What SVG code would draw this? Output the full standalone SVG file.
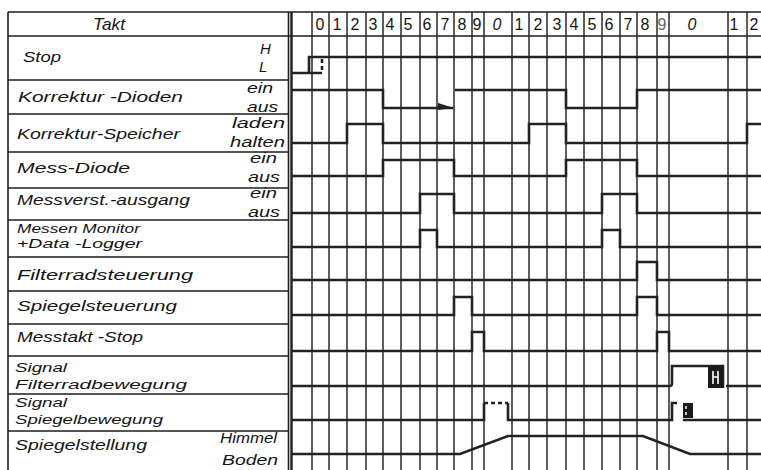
<svg xmlns="http://www.w3.org/2000/svg" width="761" height="470" viewBox="0 0 761 470">
<defs>
<style>
.bg{fill:#fff}
.frame{fill:none;stroke:#1e1e1e;stroke-width:1.6}
.grid{stroke:#2a2a2a;stroke-width:1.5}
.tr{fill:none;stroke:#222;stroke-width:2.6;stroke-linejoin:miter;stroke-linecap:butt}
.dash{fill:none;stroke:#222;stroke-width:2.6;stroke-dasharray:4 3}
text{font-family:"Liberation Sans",Arial,sans-serif;font-style:italic;fill:#141414}
.lbl{font-size:15px}
.sm{font-size:12.5px}
.lv{font-size:14px}
.num{font-size:16px;text-anchor:middle;font-style:normal}
</style>
<marker id="half" viewBox="0 0 16 8" refX="15" refY="5" markerWidth="16" markerHeight="8" markerUnits="userSpaceOnUse" orient="auto">
<polygon points="0,0 16,5 0,7" fill="#222"/>
</marker>
</defs>
<rect class="bg" x="0" y="0" width="761" height="470"/>

<g id="label-table">
<path class="frame" d="M8,12 V470 M8,12 H761 M288.5,12 V470 M8,36 H761"/>
<path class="frame" d="M8,80 H288 M8,114 H288 M8,152 H288 M8,188 H288 M8,220 H288 M8,257 H288 M8,291 H288 M8,324 H288 M8,356 H288 M8,394 H288 M8,431 H288"/>
<text x="93" y="30" style="font-size:17px" textLength="32" lengthAdjust="spacingAndGlyphs">Takt</text>
</g>

<g id="grid">
<line x1="291.5" y1="12" x2="291.5" y2="470" stroke="#1e1e1e" stroke-width="2.4"/>
<path class="grid" d="M312,12V470 M329,12V470 M347,12V470 M366,12V470 M383,12V470 M401,12V470 M420,12V470 M437,12V470 M454,12V470 M472,12V470 M484,12V470 M512,12V470 M529,12V470 M547,12V470 M566,12V470 M584,12V470 M602,12V470 M620,12V470 M637,12V470 M657,12V470 M669,12V470 M728,12V470 M747,12V470"/>
</g>

<g id="takt-numbers">
<text class="num" x="320" y="30">0</text>
<text class="num" x="337" y="30">1</text>
<text class="num" x="355" y="30">2</text>
<text class="num" x="373" y="30">3</text>
<text class="num" x="390" y="30">4</text>
<text class="num" x="408" y="30">5</text>
<text class="num" x="427" y="30">6</text>
<text class="num" x="445" y="30">7</text>
<text class="num" x="462" y="30">8</text>
<text class="num" x="477" y="30">9</text>
<text class="num" x="497" y="30" style="font-style:italic">0</text>
<text class="num" x="519" y="30">1</text>
<text class="num" x="538" y="30">2</text>
<text class="num" x="557" y="30">3</text>
<text class="num" x="574" y="30">4</text>
<text class="num" x="592" y="30">5</text>
<text class="num" x="609" y="30">6</text>
<text class="num" x="628" y="30">7</text>
<text class="num" x="645" y="30">8</text>
<text class="num" x="662" y="30" style="fill:#666">9</text>
<text class="num" x="692" y="30" style="font-style:italic">0</text>
<text class="num" x="734" y="30">1</text>
<text class="num" x="754" y="30">2</text>
</g>

<g id="stop">
<text class="lbl" x="23" y="62" textLength="38" lengthAdjust="spacingAndGlyphs">Stop</text>
<text class="lbl" x="260" y="54">H</text>
<text class="lbl" x="259" y="72">L</text>
<path class="tr" d="M291,73 H322 M309,73 V57 H761"/>
<path class="dash" d="M322,59 V73" stroke-width="2"/>
</g>

<g id="korrektur-dioden">
<text class="lbl" x="18" y="102" textLength="165" lengthAdjust="spacingAndGlyphs">Korrektur -Dioden</text>
<text class="lv" x="247" y="93" textLength="26" lengthAdjust="spacingAndGlyphs">ein</text>
<text class="lv" x="247" y="112" textLength="31" lengthAdjust="spacingAndGlyphs">aus</text>
<path class="tr" d="M291,90 H383 V108 H453" marker-end="url(#half)"/>
<path class="tr" d="M455,90 H566 V108 H637 V90 H761"/>
</g>

<g id="korrektur-speicher">
<text class="lbl" x="17" y="139" textLength="163" lengthAdjust="spacingAndGlyphs">Korrektur-Speicher</text>
<text class="lv" x="232" y="128" textLength="53" lengthAdjust="spacingAndGlyphs">laden</text>
<text class="lv" x="230" y="147" textLength="55" lengthAdjust="spacingAndGlyphs">halten</text>
<path class="tr" d="M291,143 H347 V124 H383 V143 H529 V124 H566 V143 H747 V124 H761"/>
</g>

<g id="mess-diode">
<text class="lbl" x="17" y="173" textLength="113" lengthAdjust="spacingAndGlyphs">Mess-Diode</text>
<text class="lv" x="250" y="163" textLength="27" lengthAdjust="spacingAndGlyphs">ein</text>
<text class="lv" x="248" y="182" textLength="32" lengthAdjust="spacingAndGlyphs">aus</text>
<path class="tr" d="M291,176 H383 V160 H454 V176 H566 V160 H637 V176 H761"/>
</g>

<g id="messverst-ausgang">
<text class="lbl" x="17" y="205" textLength="173" lengthAdjust="spacingAndGlyphs">Messverst.-ausgang</text>
<text class="lv" x="250" y="198" textLength="27" lengthAdjust="spacingAndGlyphs">ein</text>
<text class="lv" x="248" y="217" textLength="32" lengthAdjust="spacingAndGlyphs">aus</text>
<path class="tr" d="M291,213 H420 V194 H454 V213 H602 V194 H637 V213 H761"/>
</g>

<g id="messen-monitor">
<text class="sm" x="17" y="233" textLength="123" lengthAdjust="spacingAndGlyphs">Messen Monitor</text>
<text class="sm" x="17" y="248" textLength="125" lengthAdjust="spacingAndGlyphs">+Data -Logger</text>
<path class="tr" d="M291,247 H420 V230 H437 V247 H602 V230 H620 V247 H761"/>
</g>

<g id="filterradsteuerung">
<text class="lbl" x="17" y="280" textLength="176" lengthAdjust="spacingAndGlyphs">Filterradsteuerung</text>
<path class="tr" d="M291,280 H637 V262 H657 V280 H761"/>
</g>

<g id="spiegelsteuerung">
<text class="lbl" x="17" y="311" textLength="160" lengthAdjust="spacingAndGlyphs">Spiegelsteuerung</text>
<path class="tr" d="M291,315 H454 V297 H472 V315 H637 V297 H657 V315 H761"/>
</g>

<g id="messtakt-stop">
<text class="lbl" x="17" y="342" textLength="126" lengthAdjust="spacingAndGlyphs">Messtakt -Stop</text>
<path class="tr" d="M291,351 H472 V332 H484 V351 H657 V332 H669 V351 H761"/>
</g>

<g id="signal-filterradbewegung">
<text class="sm" x="15" y="372" textLength="52" lengthAdjust="spacingAndGlyphs">Signal</text>
<text class="sm" x="15" y="389" textLength="172" lengthAdjust="spacingAndGlyphs">Filterradbewegung</text>
<path class="tr" d="M291,386 H670 Q672,386 672,383 V366 H723 V388"/>
<rect x="708" y="366" width="15" height="22" fill="#1a1a1a"/>
<path d="M713,371 V384 M718,371 V384 M713,377 H718" stroke="#fff" stroke-width="1.6"/>
<path class="tr" d="M726,386 H761"/>
</g>

<g id="signal-spiegelbewegung">
<text class="sm" x="15" y="407" textLength="52" lengthAdjust="spacingAndGlyphs">Signal</text>
<text class="sm" x="15" y="424" textLength="148" lengthAdjust="spacingAndGlyphs">Spiegelbewegung</text>
<path class="tr" d="M291,420 H484 V403 M508,403 V420 H672 V403 H677"/>
<path class="dash" d="M484,403 H508"/>
<rect x="683" y="403" width="10" height="15" fill="#1a1a1a"/>
<path d="M686,406 V409 M686,412 V415" stroke="#fff" stroke-width="1.5"/>
<path class="tr" d="M683,420 H761"/>
</g>

<g id="spiegelstellung">
<text class="lbl" x="15" y="450" textLength="132" lengthAdjust="spacingAndGlyphs">Spiegelstellung</text>
<text class="lv" x="220" y="443" textLength="57" lengthAdjust="spacingAndGlyphs">Himmel</text>
<text class="lv" x="222" y="465" textLength="56" lengthAdjust="spacingAndGlyphs">Boden</text>
<path class="tr" d="M291,454 H460 L508,436 H643 L690,454 H761"/>
</g>
</svg>
